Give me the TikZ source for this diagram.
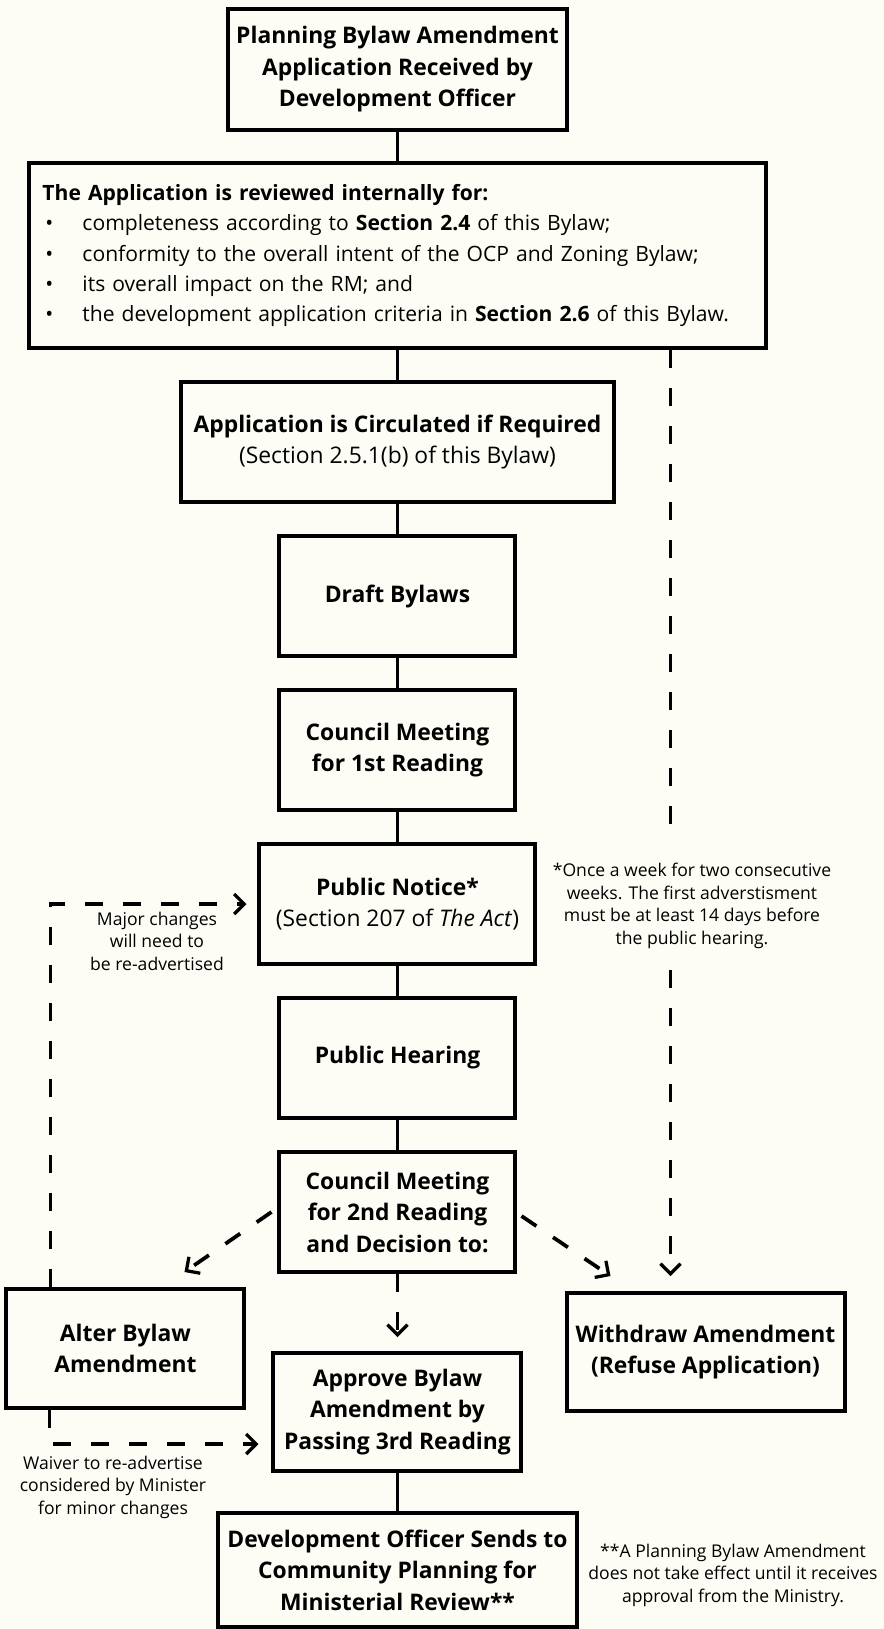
\documentclass[tikz,border=0pt]{standalone}
\usepackage{fontspec}
\setmainfont{Open Sans}
\usepackage{tikz}
\usetikzlibrary{shapes.geometric, arrows.meta}
\definecolor{paper}{RGB}{253,253,246}
\newcommand{\stepfont}{\fontsize{13}{17.9}\selectfont\bfseries}
\newcommand{\itemsfont}{\fontsize{12}{17.3}\selectfont}
\newcommand{\notesfont}{\fontsize{10}{12.8}\selectfont}
\newcommand{\bulletmark}{\makebox[0.8cm][l]{\hspace{0.06cm}\textbullet}}
\tikzstyle{stepbox} = [rectangle, minimum width=4.72cm, minimum height=2.4cm, text centered, align=center, draw=black, line width=0.08cm, font=\stepfont]
\tikzstyle{listbox} = [rectangle, text width=14.2cm, inner xsep=0.26cm, minimum height=3.7cm, align=left, draw=black, line width=0.08cm, font=\itemsfont]
\tikzstyle{note} = [align=center, font=\notesfont]
\tikzstyle{link} = [line width=0.055cm]
\tikzstyle{dashline} = [line width=0.075cm, dash pattern=on 0.36cm off 0.4cm]
\tikzstyle{dasharrow} = [dashline, -{Straight Barb[length=0.2cm,width=0.4cm,line width=0.065cm]}]

\begin{document}
\begin{tikzpicture}[node distance=3.08cm]
				\useasboundingbox (-7.95,1.39) rectangle (9.73,-31.19);
				\fill[paper] (-7.95,1.39) rectangle (9.73,-31.19);
				\node(start) [stepbox, minimum width=6.78cm, minimum height=2.42cm] {Planning Bylaw Amendment\\Application Received by\\Development Officer};
				\node(review) [listbox, below of=start, yshift=-0.64cm] {\textbf{The Application is reviewed internally for:}\\
					\bulletmark completeness according to \textbf{Section 2.4} of this Bylaw;\\
					\bulletmark conformity to the overall intent of the OCP and Zoning Bylaw;\\
					\bulletmark its overall impact on the RM; and\\
					\bulletmark the development application criteria in \textbf{Section 2.6} of this Bylaw.};
				\node(circulate) [stepbox, minimum width=8.66cm, below of=review, yshift=-0.65cm] {Application is Circulated if Required\\\mdseries (Section 2.5.1(b) of this Bylaw)};
				\node(draft) [stepbox, below of=circulate] {Draft Bylaws};
				\node(first) [stepbox, below of=draft] {Council Meeting\\for 1st Reading};
				\node(notice) [stepbox, minimum width=5.52cm, below of=first] {Public Notice*\\\mdseries (Section 207 of \textit{The Act})};
				\node(hearing) [stepbox, below of=notice] {Public Hearing};
				\node(second) [stepbox, below of=hearing] {Council Meeting\\for 2nd Reading\\and Decision to:};
				\node(approve) [stepbox, minimum width=4.96cm, minimum height=2.36cm, below of=second, yshift=-0.92cm] {Approve Bylaw\\Amendment by\\Passing 3rd Reading};
				\node(alter) [stepbox, minimum width=4.76cm, minimum height=2.38cm, left of=approve, xshift=-2.36cm, yshift=1.27cm] {Alter Bylaw\\Amendment};
				\node(withdraw) [stepbox, minimum width=5.56cm, minimum height=2.36cm, right of=approve, xshift=3.08cm, yshift=1.2cm] {Withdraw Amendment\\(Refuse Application)};
				\node(ministry) [stepbox, minimum width=7.18cm, minimum height=2.28cm, below of=approve, yshift=-0.08cm] {Development Officer Sends to\\Community Planning for\\Ministerial Review**};
				%----------------------------------------------------%
				\node(weeknote) [note, right of=notice, xshift=2.81cm, yshift=-0.04cm] {*Once a week for two consecutive\\weeks. The first adverstisment\\must be at least 14 days before\\the public hearing.};
				\node(majornote) [note, left of=notice, xshift=-1.73cm, yshift=-0.74cm] {Major changes\\will need to\\be re-advertised};
				\node(waivernote) [note, below of=alter, xshift=-0.25cm, yshift=0.31cm] {Waiver to re-advertise\\considered by Minister\\for minor changes};
				\node(effectnote) [note, right of=ministry, xshift=3.63cm, yshift=-0.1cm] {**A Planning Bylaw Amendment\\does not take effect until it receives\\approval from the Ministry.};
				%----------------------------------------------------%
				\draw[link] (start) -- (review);
				\draw[link] (review) -- (circulate);
				\draw[link] (circulate) -- (draft);
				\draw[link] (draft) -- (first);
				\draw[link] (first) -- (notice);
				\draw[link] (notice) -- (hearing);
				\draw[link] (hearing) -- (second);
				\draw[link] (approve) -- (ministry);
				%----------------------------------------------------%
				\draw[dasharrow, shorten >=0.28cm] (second) -- (approve);
				\draw[dasharrow] ([xshift=-0.12cm]second.west) -- ([xshift=1.18cm, yshift=0.3cm]alter.north);
				\draw[dasharrow] ([xshift=0.08cm, yshift=-0.08cm]second.east) -- ([xshift=-1.9cm, yshift=0.3cm]withdraw.north);
				\coordinate(wdtop) at ([xshift=-0.7cm, yshift=0.3cm]withdraw.north);
				\coordinate(gapa) at ([yshift=0.45cm]weeknote.north);
				\coordinate(gapb) at ([yshift=-0.3cm]weeknote.south);
				\draw[dashline] (review.south -| wdtop) -- (gapa -| wdtop);
				\draw[dasharrow] (gapb -| wdtop) -- (wdtop);
				\draw[dasharrow, shorten >=0.22cm] ([xshift=0.92cm]alter.north west) |- (notice.west);
				\draw[dasharrow, shorten >=0.26cm] ([xshift=0.9cm]alter.south west) |- ([yshift=-0.64cm]approve.west);
			\end{tikzpicture}
\end{document}
